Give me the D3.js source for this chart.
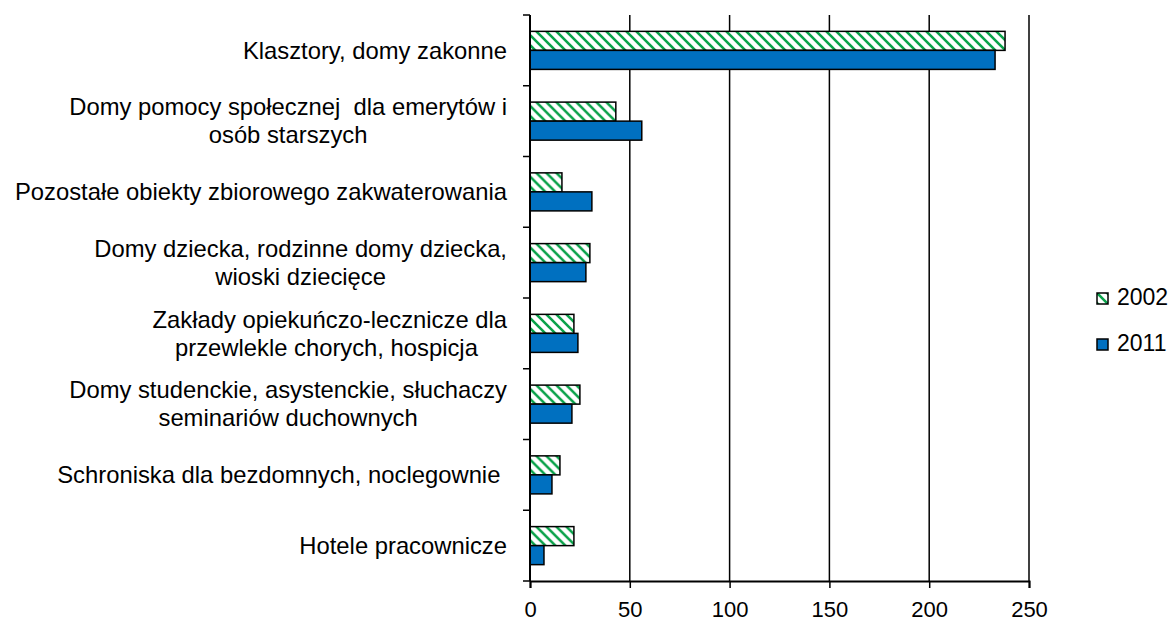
<!DOCTYPE html>
<html>
<head>
<meta charset="utf-8">
<script src="https://cdn.jsdelivr.net/npm/d3@7"></script>
<style>
  body { margin: 0; background: #fff; }
  text { font-family: "Liberation Sans", Arial, sans-serif; fill: #000; }
</style>
</head>
<body>
<div id="chart"></div>
<script>
// categories, top to bottom (each entry = label lines)
var categories = [
    ["Klasztory, domy zakonne"],
    ["Domy pomocy społecznej  dla emerytów i", "osób starszych"],
    ["Pozostałe obiekty zbiorowego zakwaterowania"],
    ["Domy dziecka, rodzinne domy dziecka,", "wioski dziecięce"],
    ["Zakłady opiekuńczo-lecznicze dla", "przewlekle chorych, hospicja "],
    ["Domy studenckie, asystenckie, słuchaczy", "seminariów duchownych"],
    ["Schroniska dla bezdomnych, noclegownie "],
    ["Hotele pracownicze"]
]
var series = ["2002", "2011"]
var values2002 = [238, 43, 16, 30, 22, 25, 15, 22]
var values2011 = [233, 56, 31, 28, 24, 21, 11, 7]
var xTicks = [0, 50, 100, 150, 200, 250]

const width = 1171
const height = 623
const green = "#0aa24a"
const blue = "#0070c0"
const fontSize = 23.8

const svg = d3.select('#chart').append('svg')
    .attr('width', width)
    .attr('height', height)

// hatch for 2002
const defs = svg.append('defs')
const pat = defs.append('pattern')
    .attr('id', 'hatch')
    .attr('patternUnits', 'userSpaceOnUse')
    .attr('width', 10)
    .attr('height', 10)
pat.append('rect').attr('width', 10).attr('height', 10).attr('fill', '#fff')
pat.append('path')
    .attr('d', 'M-2,-2 L12,12 M-2,8 L2,12 M8,-2 L12,2')
    .attr('stroke', green)
    .attr('stroke-width', 2.6)

const x = d3.scaleLinear().domain([0, 250]).range([530, 1029])
const keys = categories.map((c, i) => i)
const y = d3.scaleBand().domain(keys).range([15, 581])
const ySub = d3.scaleBand().domain(series).range([0, y.bandwidth()]).paddingInner(0).paddingOuter(0.86)

// gridlines
svg.append('g').selectAll('line')
    .data(xTicks.filter(t => t > 0))
    .join('line')
    .attr('x1', d => x(d)).attr('x2', d => x(d))
    .attr('y1', 15).attr('y2', 581)
    .attr('stroke', '#000').attr('stroke-width', 1.5)

// bars
var rows = keys.map(i => ({ i, v: { "2002": values2002[i], "2011": values2011[i] } }))
const groups = svg.append('g').selectAll('g')
    .data(rows)
    .join('g')
    .attr('transform', d => `translate(0,${y(d.i)})`)

groups.selectAll('rect')
    .data(d => series.map(s => ({ s, v: d.v[s] })))
    .join('rect')
    .attr('x', x(0))
    .attr('y', d => ySub(d.s))
    .attr('width', d => x(d.v) - x(0))
    .attr('height', ySub.bandwidth())
    .attr('fill', d => d.s == "2002" ? 'url(#hatch)' : blue)
    .attr('stroke', '#000')
    .attr('stroke-width', 1.5)

// y axis line and category ticks
svg.append('line')
    .attr('x1', x(0)).attr('x2', x(0))
    .attr('y1', 15).attr('y2', 581)
    .attr('stroke', '#000').attr('stroke-width', 2)
svg.append('g').selectAll('line')
    .data(keys.map(k => y(k)).concat([581]))
    .join('line')
    .attr('x1', x(0) - 7).attr('x2', x(0))
    .attr('y1', d => d).attr('y2', d => d)
    .attr('stroke', '#000').attr('stroke-width', 1.5)

// x axis
const xAxis = svg.append('g')
    .attr('transform', 'translate(0,581)')
    .call(d3.axisBottom(x).tickValues(xTicks).tickSize(7).tickPadding(13))
xAxis.select('.domain').attr('stroke', '#000').attr('stroke-width', 2)
xAxis.selectAll('.tick line').attr('stroke', '#000').attr('stroke-width', 1.5)
xAxis.selectAll('.tick text')
    .attr('font-size', 22)
    .attr('font-family', '"Liberation Sans", Arial, sans-serif')
    .attr('fill', '#000')

// category labels: centered lines, block right-aligned
const labelRight = 507
const lineH = 28
const labels = svg.append('g').selectAll('g')
    .data(rows)
    .join('g')
labels.each(function (d) {
    var g = d3.select(this)
    var lines = categories[d.i]
    var cy = y(d.i) + y.bandwidth() / 2
    var texts = lines.map((t, j) => g.append('text')
        .attr('font-size', fontSize)
        .attr('y', cy + (j - (lines.length - 1) / 2) * lineH)
        .attr('dy', '0.35em')
        .style('white-space', 'pre')
        .text(t))
    var widths = texts.map(t => t.node().getComputedTextLength())
    var w = d3.max(widths)
    texts.forEach((t, j) => t.attr('x', labelRight - w / 2).attr('text-anchor', 'middle'))
})

// legend
const legend = svg.append('g').selectAll('g')
    .data(series)
    .join('g')
    .attr('transform', (d, i) => `translate(1097,${293 + i * 46})`)
legend.append('rect')
    .attr('width', 11).attr('height', 11)
    .attr('fill', d => d == "2002" ? 'url(#hatch)' : blue)
    .attr('stroke', '#000').attr('stroke-width', 1.5)
legend.append('text')
    .attr('x', 20).attr('y', 12)
    .attr('font-size', 23)
    .text(d => d)
</script>
</body>
</html>
